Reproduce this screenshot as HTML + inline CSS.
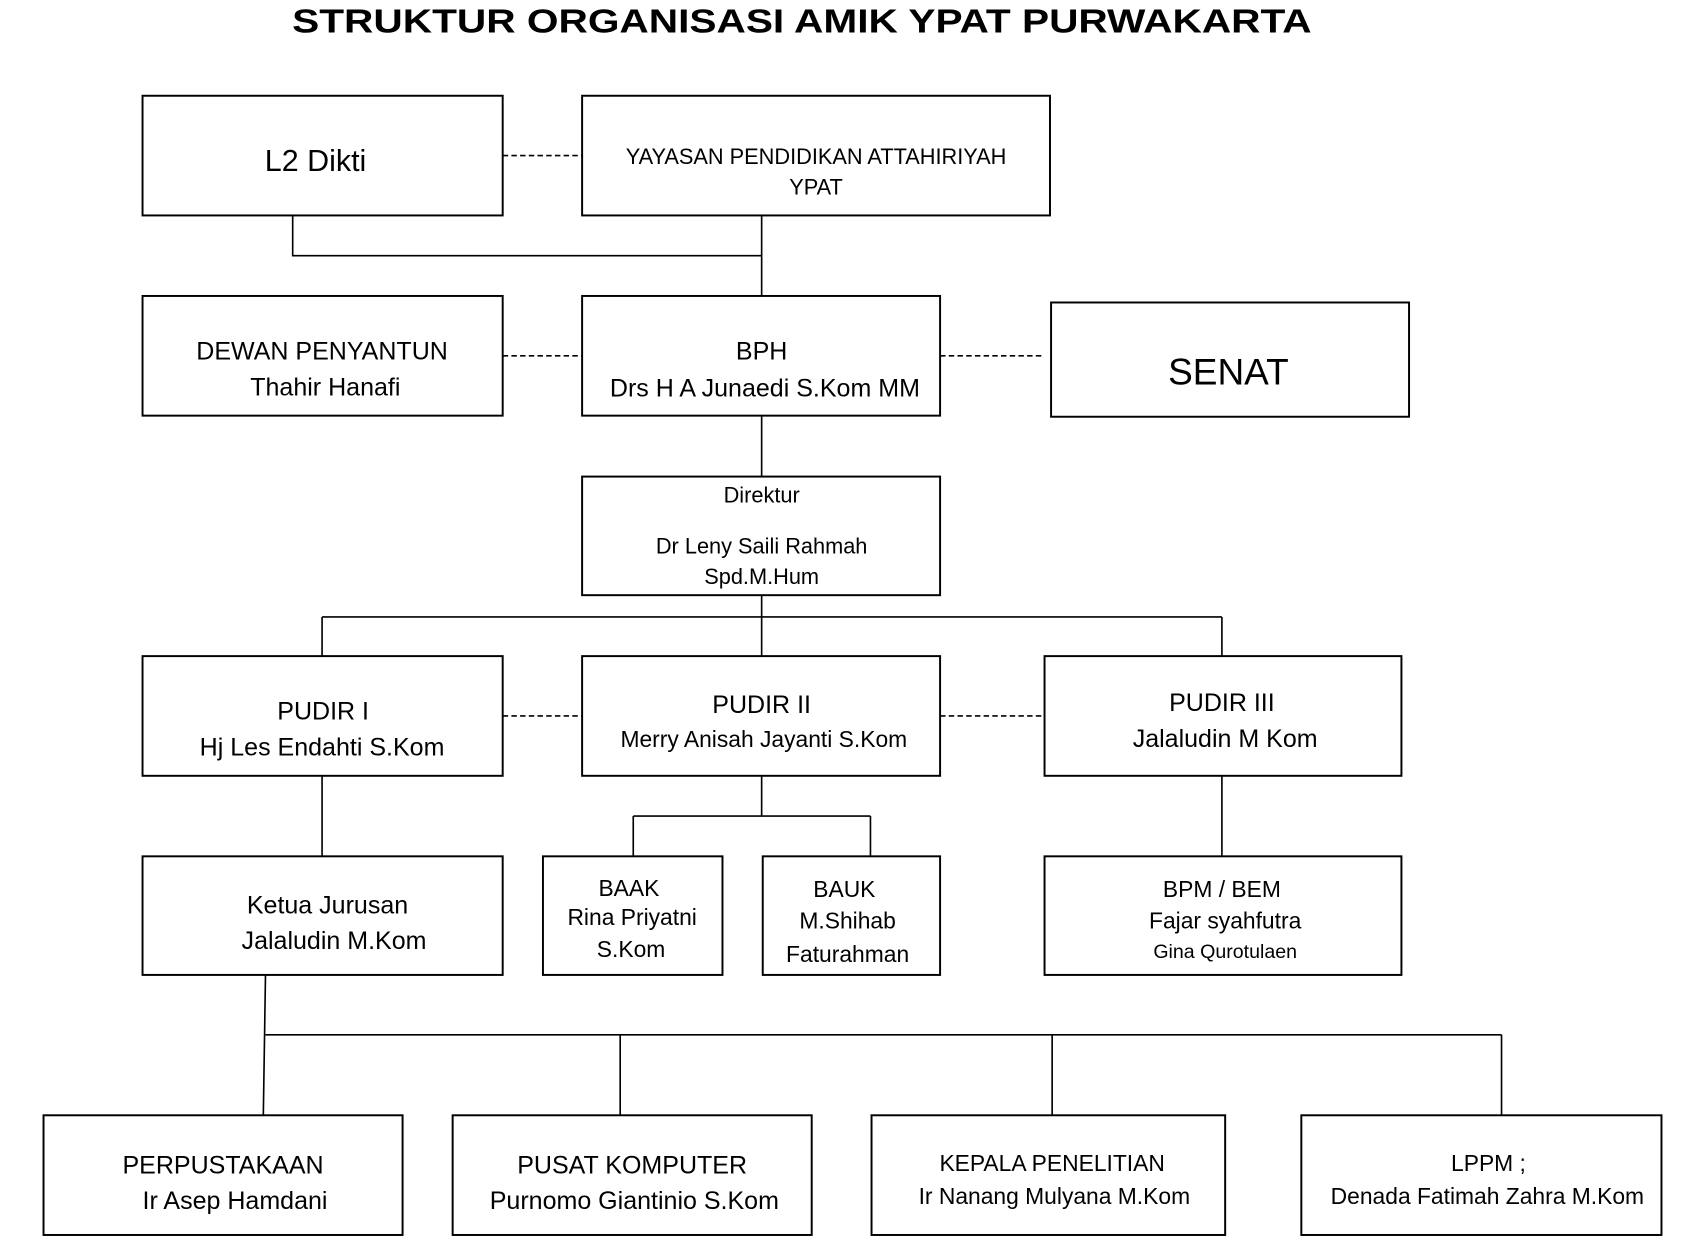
<!DOCTYPE html>
<html><head><meta charset="utf-8"><style>html,body{margin:0;padding:0;background:#fff}svg{display:block}</style></head>
<body>
<svg width="1705" height="1260" viewBox="0 0 1567 1158" preserveAspectRatio="none" xmlns="http://www.w3.org/2000/svg" font-family="'Liberation Sans', sans-serif" fill="#000">
<text x="737" y="30" font-size="31" font-weight="bold" text-anchor="middle" textLength="937" lengthAdjust="spacingAndGlyphs">STRUKTUR ORGANISASI  AMIK YPAT PURWAKARTA</text>
<g fill="none" stroke="#000" stroke-width="1.8">
<rect x="131" y="88" width="331" height="110"/>
<rect x="535" y="88" width="430" height="110"/>
<rect x="131" y="272" width="331" height="110"/>
<rect x="535" y="272" width="329" height="110"/>
<rect x="966" y="278" width="329" height="105"/>
<rect x="535" y="438" width="329" height="109"/>
<rect x="131" y="603" width="331" height="110"/>
<rect x="535" y="603" width="329" height="110"/>
<rect x="960" y="603" width="328" height="110"/>
<rect x="131" y="787" width="331" height="109"/>
<rect x="499" y="787" width="165" height="109"/>
<rect x="701" y="787" width="163" height="109"/>
<rect x="960" y="787" width="328" height="109"/>
<rect x="40" y="1025" width="330" height="110"/>
<rect x="416" y="1025" width="330" height="110"/>
<rect x="801" y="1025" width="325" height="110"/>
<rect x="1196" y="1025" width="331" height="110"/>
<path d="M269 198V235H700M700 198V272M700 382V438M700 547V603M296 567H1123M296 567V603M1123 567V603M296 713V787M700 713V750M582 750H800M582 750V787M800 750V787M1123 713V787M244 896L242 1025M244 951H1380M570 951V1025M967 951V1025M1380 951V1025" stroke-width="1.5"/>
<path d="M462 143H535M462 327H535M864 327H958M462 658H535M864 658H958" stroke-width="1.5" stroke-dasharray="5,3"/>
</g>
<g text-anchor="middle" dominant-baseline="central">
<text x="290" y="148" font-size="28">L2 Dikti</text>
<text x="750" y="144" font-size="20">YAYASAN PENDIDIKAN ATTAHIRIYAH</text>
<text x="750" y="172" font-size="20">YPAT</text>
<text x="296" y="323" font-size="23">DEWAN PENYANTUN</text>
<text x="299" y="356" font-size="23">Thahir Hanafi</text>
<text x="700" y="323" font-size="23">BPH</text>
<text x="703" y="357" font-size="23">Drs H A Junaedi S.Kom MM</text>
<text x="1129" y="342" font-size="34">SENAT</text>
<text x="700" y="455" font-size="20">Direktur</text>
<text x="700" y="502" font-size="20">Dr Leny Saili Rahmah</text>
<text x="700" y="530" font-size="20">Spd.M.Hum</text>
<text x="297" y="654" font-size="23">PUDIR I</text>
<text x="296" y="687" font-size="23">Hj Les Endahti S.Kom</text>
<text x="700" y="648" font-size="23">PUDIR II</text>
<text x="702" y="679" font-size="21">Merry Anisah Jayanti S.Kom</text>
<text x="1123" y="646" font-size="23">PUDIR III</text>
<text x="1126" y="679" font-size="23">Jalaludin M Kom</text>
<text x="301" y="832" font-size="23">Ketua Jurusan</text>
<text x="307" y="865" font-size="23">Jalaludin M.Kom</text>
<text x="578" y="816" font-size="21">BAAK</text>
<text x="581" y="843" font-size="21">Rina Priyatni</text>
<text x="580" y="872" font-size="21">S.Kom</text>
<text x="776" y="817" font-size="21">BAUK</text>
<text x="779" y="846" font-size="21">M.Shihab</text>
<text x="779" y="877" font-size="21">Faturahman</text>
<text x="1123" y="817" font-size="21">BPM / BEM</text>
<text x="1126" y="846" font-size="21">Fajar syahfutra</text>
<text x="1126" y="875" font-size="18">Gina Qurotulaen</text>
<text x="205" y="1071" font-size="23">PERPUSTAKAAN</text>
<text x="216" y="1104" font-size="23">Ir Asep Hamdani</text>
<text x="581" y="1071" font-size="23">PUSAT KOMPUTER</text>
<text x="583" y="1104" font-size="23">Purnomo Giantinio S.Kom</text>
<text x="967" y="1069" font-size="21">KEPALA PENELITIAN</text>
<text x="969" y="1099" font-size="21">Ir Nanang Mulyana M.Kom</text>
<text x="1368" y="1069" font-size="21">LPPM ;</text>
<text x="1367" y="1099" font-size="21">Denada Fatimah Zahra M.Kom</text>
</g>
</svg>
</body></html>
